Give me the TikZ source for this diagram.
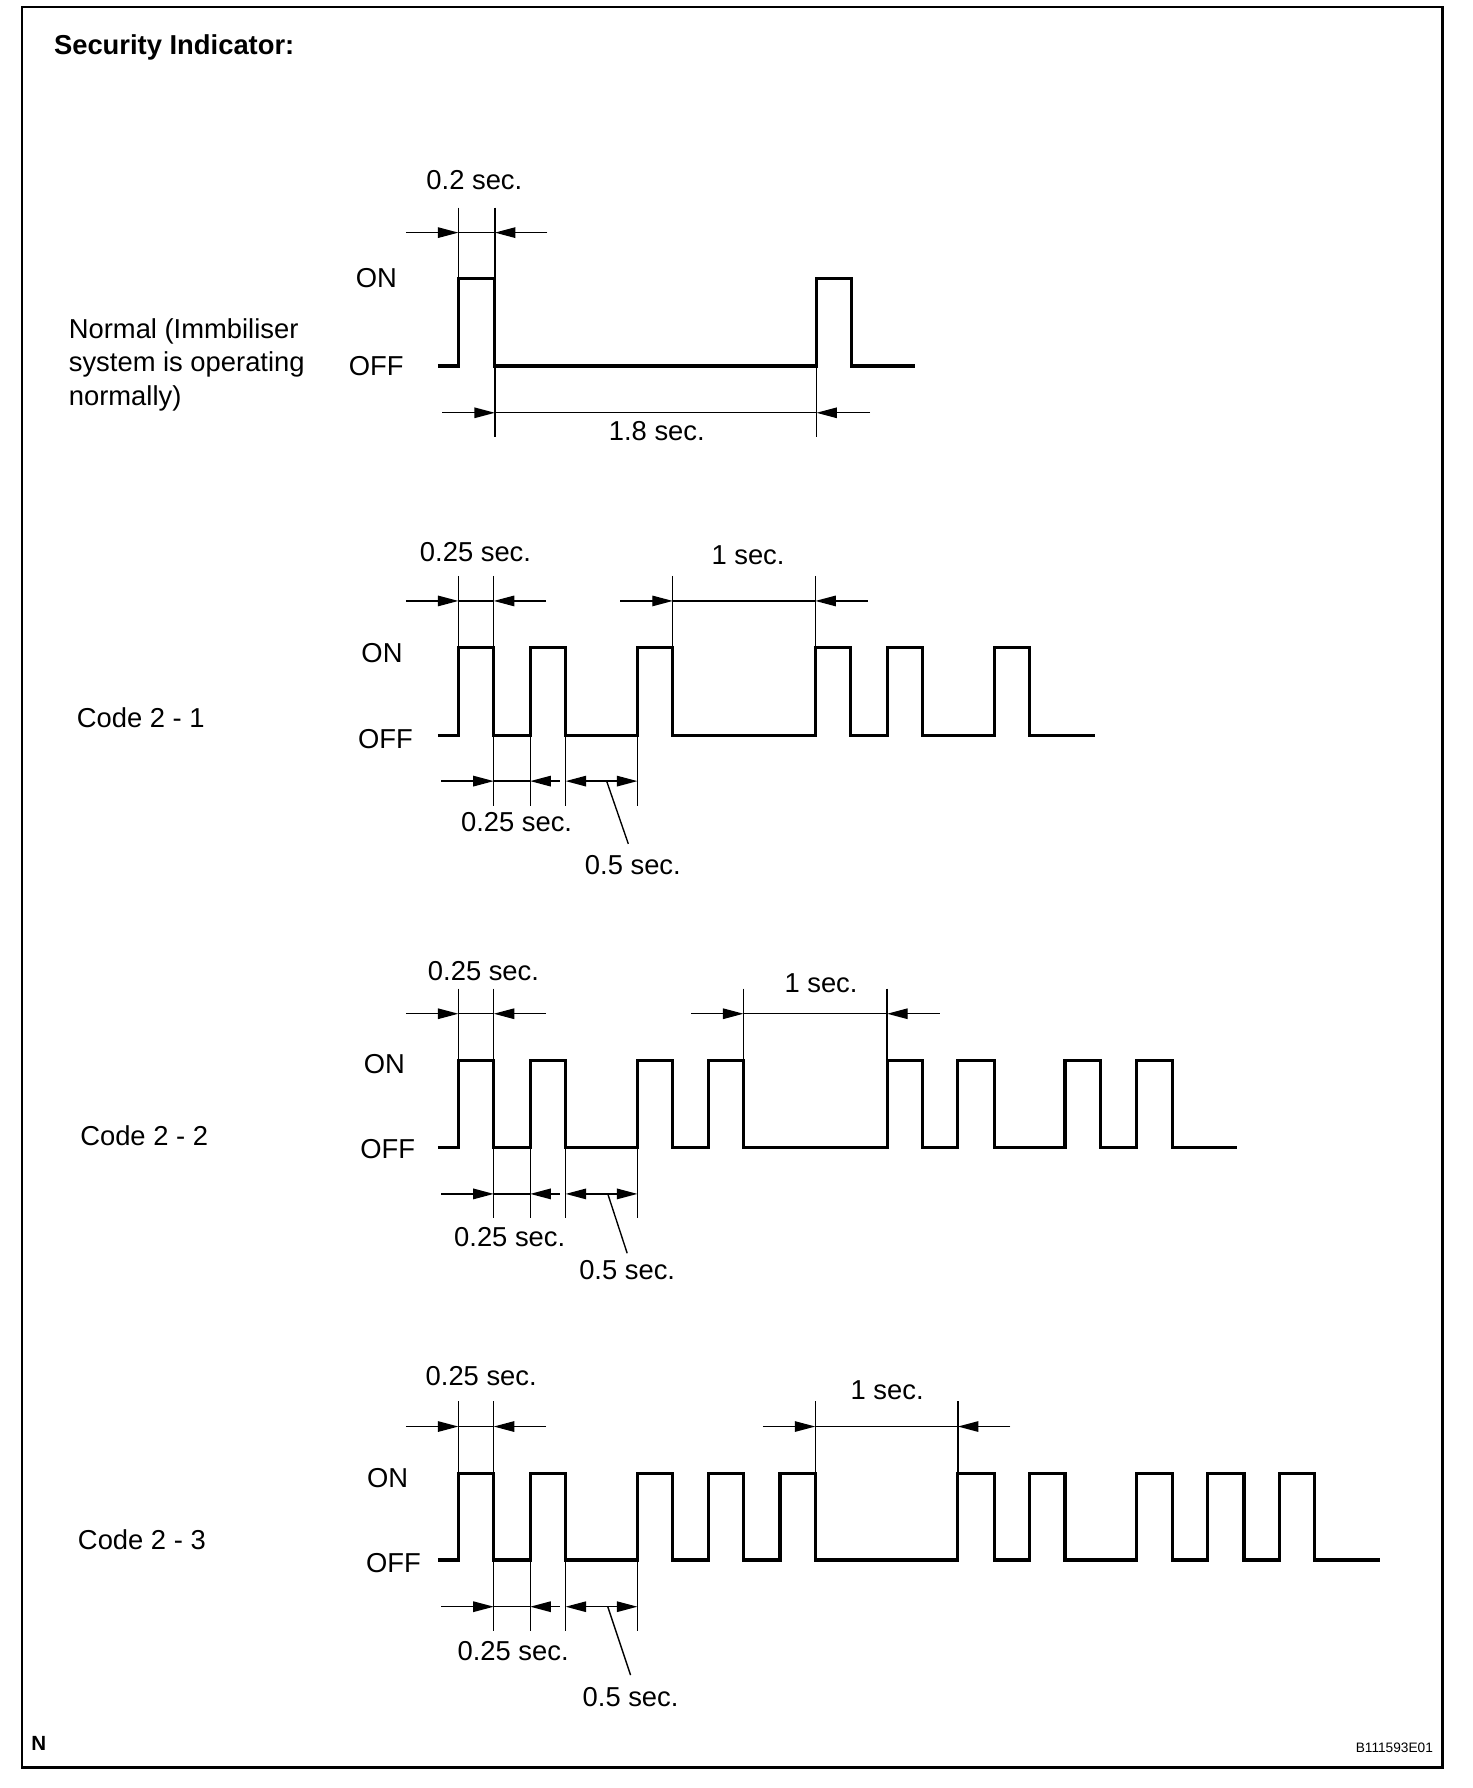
\documentclass[tikz,border=0pt]{standalone}
\usepackage{fontspec}
\setmainfont{Liberation Sans}
\usepackage{tikz}
\usetikzlibrary{arrows.meta,positioning}

\begin{document}
\begin{tikzpicture}[x=0.5pt, y=-0.5pt, >={Triangle[length=9pt,width=4.6pt]},
    font=\fontsize{12}{14.5}\selectfont, inner sep=0pt]

\tikzstyle{wave}=[line width=1.4pt]
\tikzstyle{dim}=[line width=0.6pt]
\tikzstyle{frame}=[line width=1pt]

\useasboundingbox (0,0) rectangle (1291,1568);
\draw[frame] (19,6) rectangle (1265,1550);

\node[anchor=west, font=\fontsize{12}{14.5}\selectfont\bfseries] (Title) at (47,42) {Security Indicator:};

% Normal
\node[anchor=west, align=left] (Norm) at (60,320) {Normal (Immbiliser\\system is operating\\normally)};
\node (N_on) at (330,244) {ON};
\node (N_off) at (330,321) {OFF};
\draw[wave] (384,321) -| (402,244) -| (434,321) -| (716,244) -| (747,321) -- (802,321);
\draw[dim] (402,182) -- (402,244);
\draw[dim] (434,182) -- (434,383);
\draw[dim] (716,321) -- (716,383);
\coordinate (N_a) at (402,204);
\coordinate (N_b) at (434,204);
\coordinate (N_c) at (434,362);
\coordinate (N_d) at (716,362);
\draw[dim,->] (356,204) -- (N_a);
\draw[dim] (N_a) -- (N_b);
\draw[dim,->] (480,204) -- (N_b);
\draw[dim,->] (388,362) -- (N_c);
\draw[dim] (N_c) -- (N_d);
\draw[dim,->] (763,362) -- (N_d);
\node (N_t1) at (416,158) {0.2 sec.};
\node (N_t2) at (576,378) {1.8 sec.};

% Code 2 - 1
\node[anchor=west] (C1) at (67,629) {Code 2 - 1};
\node (C1_on) at (335,573) {ON};
\node (C1_off) at (338,648) {OFF};
\draw[wave] (384,645) -| (402,568) -| (433,645) -| (465,568) -| (496,645) -| (559,568)
    -| (590,645) -| (715,568) -| (746,645) -| (778,568) -| (809,645) -| (872,568)
    -| (903,645) -- (960,645);
\draw[dim] (402,505) -- (402,568);
\draw[dim] (433,505) -- (433,707);
\draw[dim] (465,645) -- (465,707);
\draw[dim] (496,645) -- (496,707);
\draw[dim] (559,645) -- (559,707);
\draw[dim] (590,505) -- (590,568);
\draw[dim] (715,505) -- (715,568);
\coordinate (C1_a) at (402,527);
\coordinate (C1_b) at (433,527);
\coordinate (C1_c) at (590,527);
\coordinate (C1_d) at (715,527);
\coordinate (C1_e) at (433,685);
\coordinate (C1_f) at (465,685);
\coordinate (C1_g) at (496,685);
\coordinate (C1_h) at (559,685);
\draw[dim,->] (356,527) -- (C1_a);
\draw[dim] (C1_a) -- (C1_b);
\draw[dim,->] (479,527) -- (C1_b);
\draw[dim,->] (544,527) -- (C1_c);
\draw[dim] (C1_c) -- (C1_d);
\draw[dim,->] (761,527) -- (C1_d);
\draw[dim,->] (387,685) -- (C1_e);
\draw[dim] (C1_e) -- (C1_f);
\draw[dim,->] (491,685) -- (C1_f);
\draw[dim,<->] (C1_g) -- (C1_h);
\coordinate (C1_i) at (532,685);
\coordinate (C1_j) at (551,740);
\draw[dim] (C1_i) -- (C1_j);
\node (C1_t1) at (417,484) {0.25 sec.};
\node (C1_t2) at (656,487) {1 sec.};
\node (C1_t3) at (453,721) {0.25 sec.};
\node (C1_t4) [below=5pt of C1_j, xshift=2pt] {0.5 sec.};

% Code 2 - 2
\node[anchor=west] (C2) at (70,996) {Code 2 - 2};
\node (C2_on) at (337,933) {ON};
\node (C2_off) at (340,1008) {OFF};
\draw[wave] (384,1006) -| (402,930) -| (433,1006) -| (465,930) -| (496,1006) -| (559,930)
    -| (590,1006) -| (621,930) -| (652,1006) -| (778,930) -| (809,1006) -| (840,930)
    -| (872,1006) -| (934,930) -| (965,1006) -| (997,930) -| (1028,1006) -- (1085,1006);
\draw[dim] (402,867) -- (402,930);
\draw[dim] (433,867) -- (433,1068);
\draw[dim] (465,1006) -- (465,1068);
\draw[dim] (496,1006) -- (496,1068);
\draw[dim] (559,1006) -- (559,1068);
\draw[dim] (652,867) -- (652,930);
\draw[dim] (778,867) -- (778,930);
\coordinate (C2_a) at (402,889);
\coordinate (C2_b) at (433,889);
\coordinate (C2_c) at (652,889);
\coordinate (C2_d) at (778,889);
\coordinate (C2_e) at (433,1047);
\coordinate (C2_f) at (465,1047);
\coordinate (C2_g) at (496,1047);
\coordinate (C2_h) at (559,1047);
\draw[dim,->] (356,889) -- (C2_a);
\draw[dim] (C2_a) -- (C2_b);
\draw[dim,->] (479,889) -- (C2_b);
\draw[dim,->] (606,889) -- (C2_c);
\draw[dim] (C2_c) -- (C2_d);
\draw[dim,->] (824,889) -- (C2_d);
\draw[dim,->] (387,1047) -- (C2_e);
\draw[dim] (C2_e) -- (C2_f);
\draw[dim,->] (491,1047) -- (C2_f);
\draw[dim,<->] (C2_g) -- (C2_h);
\coordinate (C2_i) at (533,1047);
\coordinate (C2_j) at (550,1099);
\draw[dim] (C2_i) -- (C2_j);
\node (C2_t1) at (424,852) {0.25 sec.};
\node (C2_t2) at (720,862) {1 sec.};
\node (C2_t3) at (447,1085) {0.25 sec.};
\node (C2_t4) [below=3pt of C2_j] {0.5 sec.};

% Code 2 - 3
\node[anchor=west] (C3) at (68,1350) {Code 2 - 3};
\node (C3_on) at (340,1296) {ON};
\node (C3_off) at (345,1371) {OFF};
\draw[wave] (384,1368) -| (402,1292) -| (433,1368) -| (465,1292) -| (496,1368) -| (559,1292)
    -| (590,1368) -| (621,1292) -| (652,1368) -| (684,1292) -| (715,1368) -| (840,1292)
    -| (872,1368) -| (903,1292) -| (934,1368) -| (997,1292) -| (1028,1368) -| (1059,1292)
    -| (1091,1368) -| (1122,1292) -| (1153,1368) -- (1210,1368);
\draw[dim] (402,1229) -- (402,1292);
\draw[dim] (433,1229) -- (433,1430);
\draw[dim] (465,1368) -- (465,1430);
\draw[dim] (496,1368) -- (496,1430);
\draw[dim] (559,1368) -- (559,1430);
\draw[dim] (715,1229) -- (715,1292);
\draw[dim] (840,1229) -- (840,1292);
\coordinate (C3_a) at (402,1251);
\coordinate (C3_b) at (433,1251);
\coordinate (C3_c) at (715,1251);
\coordinate (C3_d) at (840,1251);
\coordinate (C3_e) at (433,1409);
\coordinate (C3_f) at (465,1409);
\coordinate (C3_g) at (496,1409);
\coordinate (C3_h) at (559,1409);
\draw[dim,->] (356,1251) -- (C3_a);
\draw[dim] (C3_a) -- (C3_b);
\draw[dim,->] (479,1251) -- (C3_b);
\draw[dim,->] (669,1251) -- (C3_c);
\draw[dim] (C3_c) -- (C3_d);
\draw[dim,->] (886,1251) -- (C3_d);
\draw[dim,->] (387,1409) -- (C3_e);
\draw[dim] (C3_e) -- (C3_f);
\draw[dim,->] (491,1409) -- (C3_f);
\draw[dim,<->] (C3_g) -- (C3_h);
\coordinate (C3_i) at (533,1409);
\coordinate (C3_j) at (553,1469);
\draw[dim] (C3_i) -- (C3_j);
\node (C3_t1) at (422,1207) {0.25 sec.};
\node (C3_t2) at (778,1219) {1 sec.};
\node (C3_t3) at (450,1448) {0.25 sec.};
\node (C3_t4) [below=5pt of C3_j] {0.5 sec.};

\node[font=\fontsize{9}{10}\selectfont\bfseries] (N_mark) at (34,1529) {N};
\node[anchor=east, font=\fontsize{6}{7}\selectfont] (Ref) at (1257,1533) {B111593E01};

\end{tikzpicture}
\end{document}
